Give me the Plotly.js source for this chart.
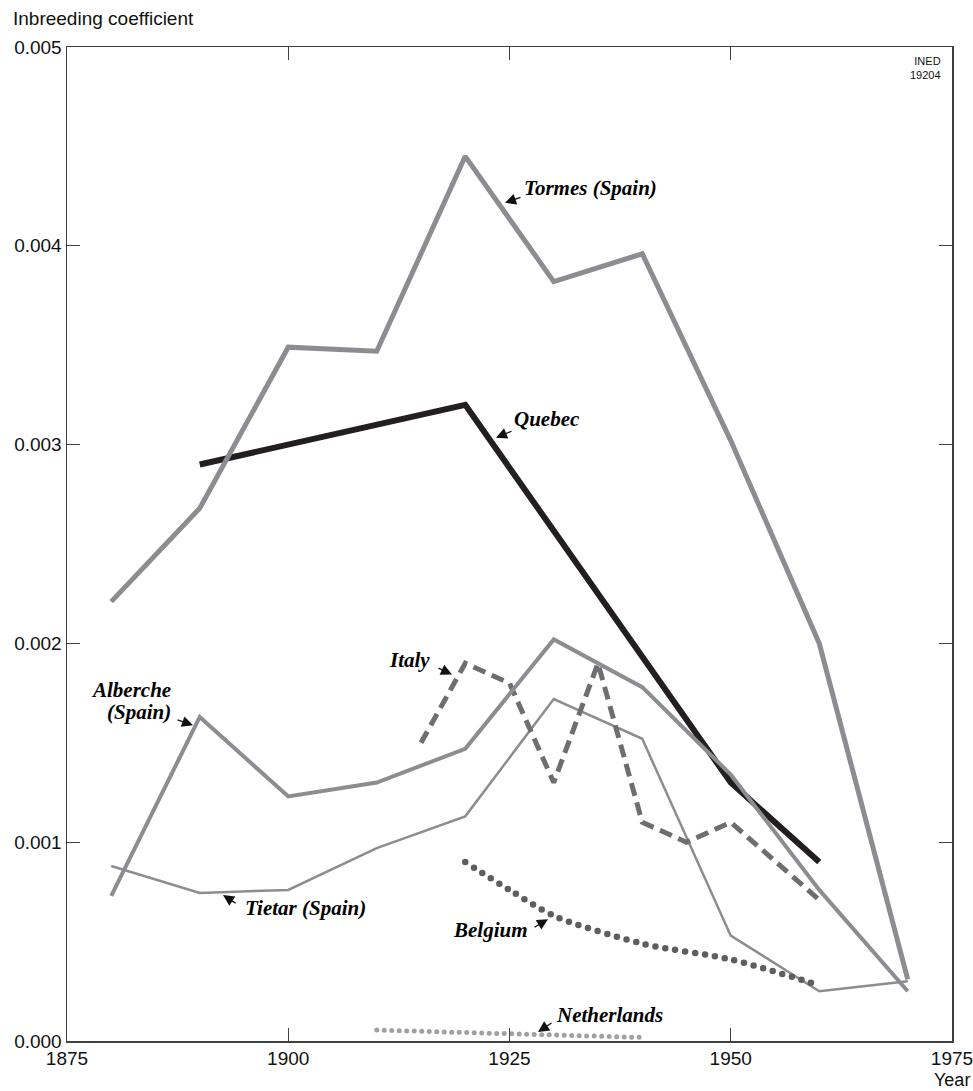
<!DOCTYPE html>
<html>
<head>
<meta charset="utf-8">
<script src="https://cdn.plot.ly/plotly-3.0.1.min.js"></script>
<style>
  html, body { margin: 0; padding: 0; background: #fff; }
  #chart { width: 973px; height: 1091px; }
</style>
</head>
<body>
<div id="chart"></div>
<script>
// ---- Data ----
const tormesYears   = [1880, 1890, 1900, 1910, 1920, 1930, 1940, 1950, 1960, 1970];
const tormesValues  = [0.00221, 0.00268, 0.00349, 0.00347, 0.00445, 0.00382, 0.00396, 0.00302, 0.00200, 0.00031];

const quebecYears   = [1890, 1920, 1950, 1960];
const quebecValues  = [0.00290, 0.00320, 0.00130, 0.00090];

const albercheYears  = [1880, 1890, 1900, 1910, 1920, 1930, 1940, 1950, 1960, 1970];
const albercheValues = [0.00073, 0.00163, 0.00123, 0.00130, 0.00147, 0.00202, 0.00178, 0.00134, 0.00076, 0.00025];

const tietarYears   = [1880, 1890, 1900, 1910, 1920, 1930, 1940, 1950, 1960, 1970];
const tietarValues  = [0.00088, 0.000745, 0.00076, 0.00097, 0.00113, 0.00172, 0.00152, 0.00053, 0.00025, 0.00030];

const italyYears    = [1915, 1920, 1925, 1930, 1935, 1940, 1945, 1950, 1960];
const italyValues   = [0.00150, 0.00190, 0.00180, 0.00130, 0.00190, 0.00110, 0.00100, 0.00110, 0.00071];

const belgiumYears  = [1920, 1925, 1930, 1940, 1950, 1960];
const belgiumValues = [0.00090, 0.00076, 0.00063, 0.00049, 0.00041, 0.00028];

const netherlandsYears  = [1910, 1920, 1930, 1940];
const netherlandsValues = [0.000055, 0.000042, 0.00003, 0.000018];

const xTickVals = [1875, 1900, 1925, 1950, 1975];
const yTickVals = [0, 0.001, 0.002, 0.003, 0.004, 0.005];

// ---- Traces ----
const traces = [
  { name: 'Tietar (Spain)', x: tietarYears, y: tietarValues, mode: 'lines',
    line: { color: '#8c8d91', width: 2.5 } },
  { name: 'Netherlands', x: netherlandsYears, y: netherlandsValues, mode: 'lines',
    line: { color: '#a0a0a2', width: 5, dash: '0px,7.5px' } },
  { name: 'Belgium', x: belgiumYears, y: belgiumValues, mode: 'lines',
    line: { color: '#5e5e60', width: 6.5, dash: '0px,10px', shape: 'spline', smoothing: 0.8 } },
  { name: 'Italy', x: italyYears, y: italyValues, mode: 'lines',
    line: { color: '#6e6e70', width: 5, dash: '13px,7px' } },
  { name: 'Quebec', x: quebecYears, y: quebecValues, mode: 'lines',
    line: { color: '#231f20', width: 6 } },
  { name: 'Alberche (Spain)', x: albercheYears, y: albercheValues, mode: 'lines',
    line: { color: '#8c8d91', width: 4 } },
  { name: 'Tormes (Spain)', x: tormesYears, y: tormesValues, mode: 'lines',
    line: { color: '#8c8d91', width: 5 } }
];

// ---- Labels with arrows ----
const labelFont = { family: 'Liberation Serif, Times New Roman, serif', size: 21, color: '#000' };
const arrowBase = { showarrow: true, arrowhead: 2, arrowsize: 1.7, arrowwidth: 1.3, arrowcolor: '#111', text: '', standoff: 0 };
function arrow(x, y, ax, ay) { return Object.assign({}, arrowBase, { x: x, y: y, ax: ax, ay: ay }); }
function label(text, x, y, xanchor) {
  return { text: '<b><i>' + text + '</i></b>', x: x, y: y, xanchor: xanchor, yanchor: 'middle',
           showarrow: false, font: labelFont };
}

const annotations = [
  arrow(1924.49, 0.004216, 17, -6),  label('Tormes (Spain)', 1926.4, 0.004291, 'left'),
  arrow(1923.47, 0.003035, 17, -7),  label('Quebec', 1925.3, 0.003131, 'left'),
  arrow(1918.5, 0.001844, -15, -7),  label('Italy', 1916.2, 0.001915, 'right'),
  arrow(1889.24, 0.001588, -17, -6), label('Alberche', 1886.95, 0.001764, 'right'),
                                     label('(Spain)', 1886.95, 0.001653, 'right'),
  arrow(1892.63, 0.000734, 14, 9),   label('Tietar (Spain)', 1894.9, 0.000668, 'left'),
  arrow(1929.35, 0.000613, -15, 9),  label('Belgium', 1927.3, 0.000558, 'right'),
  arrow(1928.22, 0.0000452, 15, -10), label('Netherlands', 1930.0, 0.000131, 'left'),
  { text: 'Year', xref: 'paper', yref: 'paper', x: 1, y: 0, xanchor: 'center', yanchor: 'middle',
    yshift: -39, showarrow: false, font: { family: 'Liberation Sans, Arial, sans-serif', size: 18, color: '#111' } },
  { text: 'INED<br>19204', xref: 'paper', yref: 'paper', x: 0.9898, y: 0.9789, xanchor: 'right', yanchor: 'middle',
    align: 'right', showarrow: false,
    font: { family: 'Liberation Sans Narrow, Liberation Sans, Arial, sans-serif', size: 11, color: '#111' } }
];

const axisCommon = {
  showline: true, linecolor: '#404040', linewidth: 1.5, mirror: 'ticks',
  ticks: 'inside', ticklen: 13, tickwidth: 1, tickcolor: '#404040',
  showgrid: false, zeroline: false, ticklabeloverflow: 'allow',
  tickfont: { family: 'Liberation Sans, Arial, sans-serif', size: 19, color: '#111' }
};

const layout = {
  width: 973, height: 1091,
  margin: { l: 67, r: 21, t: 47, b: 50 },
  paper_bgcolor: '#fff', plot_bgcolor: '#fff',
  showlegend: false,
  title: { text: 'Inbreeding coefficient', x: 13 / 973, xanchor: 'left', xref: 'container',
           y: 1 - 18 / 1091, yanchor: 'middle', yref: 'container',
           font: { family: 'Liberation Sans, Arial, sans-serif', size: 19, color: '#111' } },
  xaxis: Object.assign({}, axisCommon, { range: [1875, 1975], tickvals: xTickVals,
           ticktext: xTickVals.map(String) }),
  yaxis: Object.assign({}, axisCommon, { range: [0, 0.005], tickvals: yTickVals, tickformat: '.3f' }),
  annotations: annotations
};

Plotly.newPlot('chart', traces, layout, { displayModeBar: false, staticPlot: true }).then(function (gd) {
  // round caps for the dotted series so the dots are round
  const paths = gd.querySelectorAll('.scatterlayer path.js-line');
  paths.forEach(function (p) {
    const da = p.style.strokeDasharray || p.getAttribute('stroke-dasharray') || '';
    if (/^\s*0(px)?[ ,]/.test(da)) p.style.strokeLinecap = 'round';
  });
});
</script>
</body>
</html>
